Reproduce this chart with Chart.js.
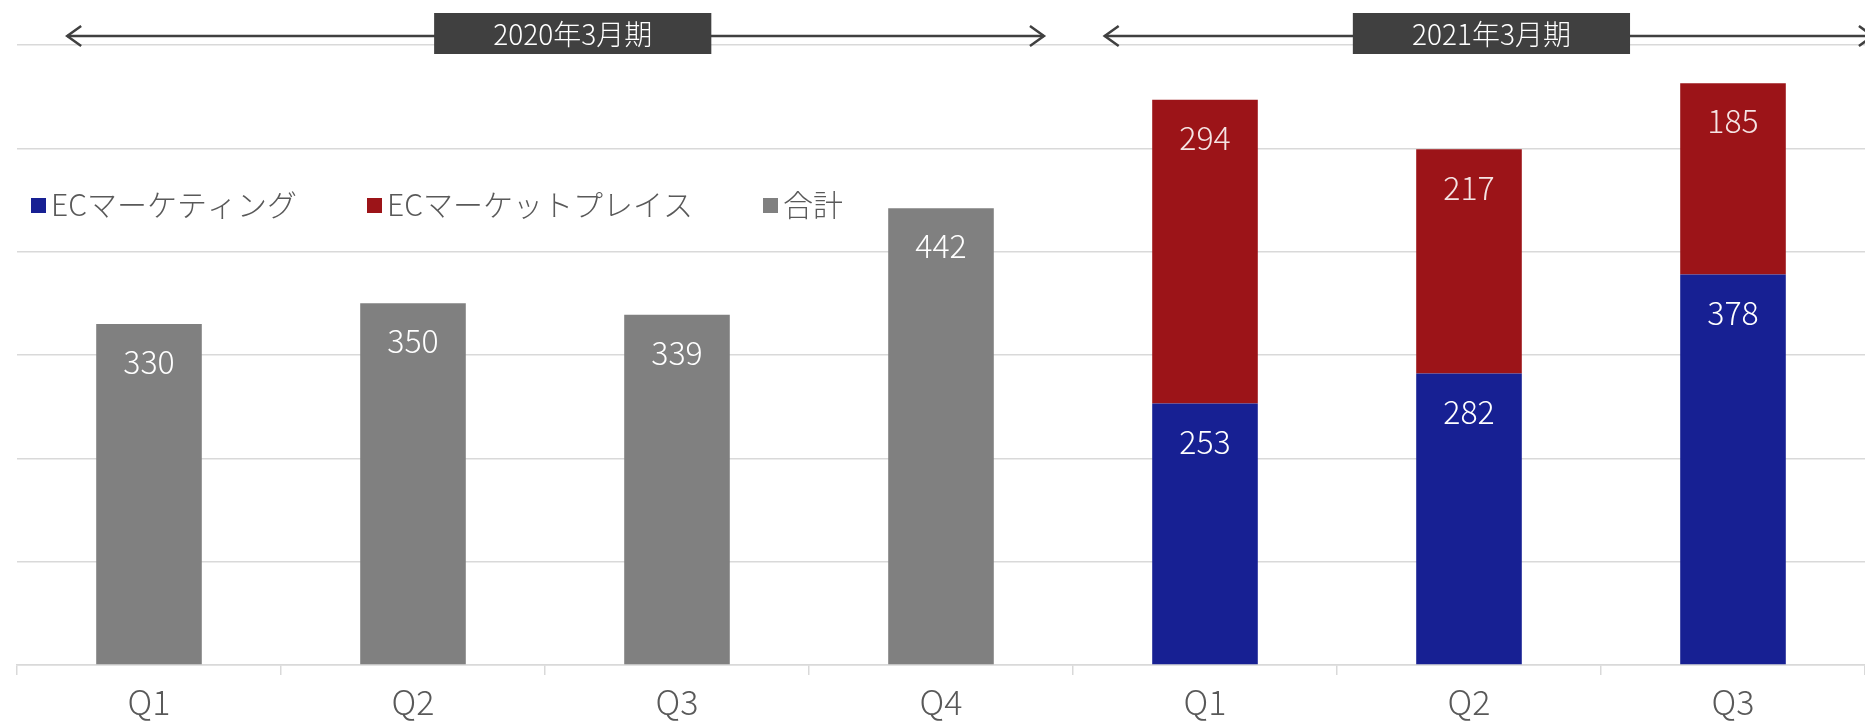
<!DOCTYPE html>
<html>
<head>
<meta charset="utf-8">
<script src="https://cdn.jsdelivr.net/npm/chart.js@4.4.0/dist/chart.umd.min.js"></script>
<style>
  html, body { margin: 0; padding: 0; background: #fff; }
  #wrap { width: 1865px; height: 723px; position: relative; }
</style>
</head>
<body>
<div id="wrap"><canvas id="chart"></canvas></div>
<script>
// data
const quarters = ['Q1', 'Q2', 'Q3', 'Q4', 'Q1', 'Q2', 'Q3'];
const totals = [330, 350, 339, 442, null, null, null];
const ecMarketing = [null, null, null, null, 253, 282, 378];
const ecMarketplace = [null, null, null, null, 294, 217, 185];
const periods = ['2020年3月期', '2021年3月期'];

const FONT = '"Noto Sans CJK JP", "Noto Sans", sans-serif';
const colors = { blue: '#172093', red: '#9c1418', gray: '#808080', box: '#404040', text: '#595959', grid: '#d9d9d9' };

// period bands, in category index units
const bands = [
    { from: -0.31, to: 3.39, boxFrom: 1.08, boxTo: 2.13 },
    { from: 3.62, to: 6.53, boxFrom: 4.56, boxTo: 5.61 }
];

const valueLabels = {
    id: 'valueLabels',
    afterDatasetsDraw(chart) {
        const ctx = chart.ctx;
        ctx.save();
        ctx.font = '300 32px ' + FONT;
        ctx.textAlign = 'center';
        ctx.textBaseline = 'middle';
        chart.data.datasets.forEach((ds, i) => {
            const meta = chart.getDatasetMeta(i);
            meta.data.forEach((bar, j) => {
                const v = ds.data[j];
                if (v == null) return;
                ctx.fillStyle = ds.labelColor;
                ctx.fillText(String(v), bar.x, bar.y + 38);
            });
        });
        ctx.restore();
    }
};

const customLegend = {
    id: 'customLegend',
    afterDraw(chart) {
        const ctx = chart.ctx;
        ctx.save();
        ctx.font = '300 30px ' + FONT;
        ctx.textBaseline = 'middle';
        let x = 31;
        const y = 205;
        chart.data.datasets.forEach(ds => {
            ctx.fillStyle = ds.backgroundColor;
            ctx.fillRect(x, y - 7, 15, 15);
            x += 20;
            ctx.fillStyle = colors.text;
            ctx.fillText(ds.label, x, y);
            x += ctx.measureText(ds.label).width + 70;
        });
        ctx.restore();
    }
};

const periodBands = {
    id: 'periodBands',
    afterDraw(chart) {
        const ctx = chart.ctx;
        const xs = chart.scales.x;
        const px = v => xs.getPixelForValue(0) + v * (xs.getPixelForValue(1) - xs.getPixelForValue(0));
        const y = 36;
        ctx.save();
        bands.forEach((b, i) => {
            const x1 = px(b.from), x2 = px(b.to);
            ctx.strokeStyle = colors.box;
            ctx.lineWidth = 2.5;
            ctx.beginPath();
            ctx.moveTo(x1, y);
            ctx.lineTo(x2, y);
            ctx.stroke();
            // open arrow heads
            ctx.beginPath();
            ctx.moveTo(x1 + 14, y - 10);
            ctx.lineTo(x1, y);
            ctx.lineTo(x1 + 14, y + 10);
            ctx.moveTo(x2 - 14, y - 10);
            ctx.lineTo(x2, y);
            ctx.lineTo(x2 - 14, y + 10);
            ctx.stroke();

            const bx1 = px(b.boxFrom), bx2 = px(b.boxTo);
            ctx.fillStyle = colors.box;
            ctx.fillRect(bx1, 13, bx2 - bx1, 41);
            ctx.fillStyle = '#ffffff';
            ctx.font = '300 28px ' + FONT;
            ctx.textAlign = 'center';
            ctx.textBaseline = 'middle';
            ctx.fillText(periods[i], (bx1 + bx2) / 2, 34);
        });
        ctx.restore();
    }
};

const ctx = document.getElementById('chart').getContext('2d');
new Chart(ctx, {
    type: 'bar',
    data: {
        labels: quarters,
        datasets: [
            { label: 'ECマーケティング', data: ecMarketing, backgroundColor: colors.blue, labelColor: '#ffffff' },
            { label: 'ECマーケットプレイス', data: ecMarketplace, backgroundColor: colors.red, labelColor: '#f5e4e4' },
            { label: '合計', data: totals, backgroundColor: colors.gray, labelColor: '#ffffff' }
        ]
    },
    options: {
        responsive: true,
        maintainAspectRatio: false,
        animation: false,
        layout: { padding: { left: 17, right: 0, top: 45, bottom: 0 } },
        datasets: { bar: { barPercentage: 0.4, categoryPercentage: 1.0 } },
        plugins: { legend: { display: false }, tooltip: { enabled: false } },
        scales: {
            x: {
                stacked: true,
                afterFit: scale => { scale.height = 58; },
                grid: { drawOnChartArea: false, drawTicks: true, tickLength: 10, color: colors.grid, lineWidth: 1.5 },
                border: { color: colors.grid, width: 1.5 },
                ticks: { color: colors.text, font: { family: FONT, size: 34, weight: '300' }, padding: 7, maxRotation: 0, autoSkip: false }
            },
            y: {
                stacked: true,
                min: 0,
                max: 600,
                ticks: { stepSize: 100, display: false },
                grid: { color: colors.grid, lineWidth: 1.5, drawTicks: false },
                border: { display: false }
            }
        }
    },
    plugins: [valueLabels, customLegend, periodBands]
});
</script>
</body>
</html>
